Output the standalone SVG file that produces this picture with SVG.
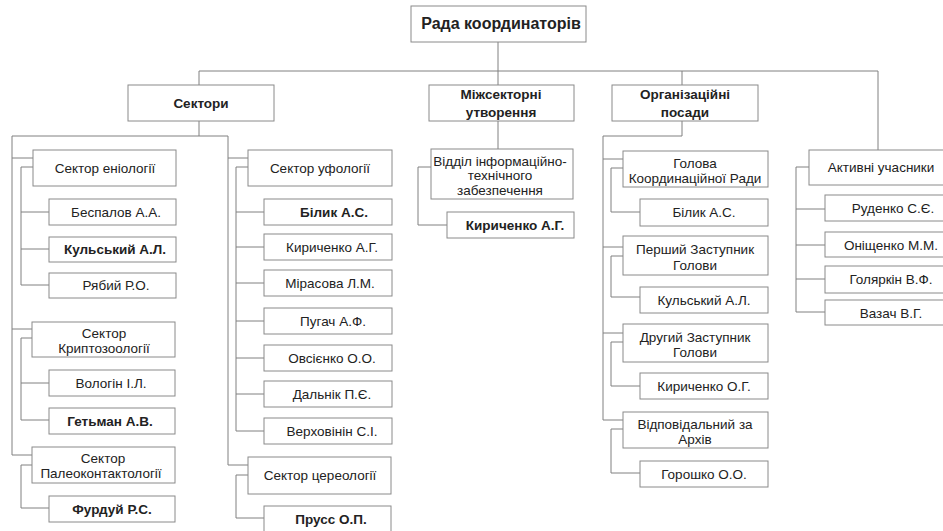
<svg xmlns="http://www.w3.org/2000/svg" width="943" height="531" viewBox="0 0 943 531">
<style>
rect{fill:#fff;stroke:#8a8a8a;stroke-width:1}
text{font-family:"Liberation Sans",Arial,sans-serif;font-size:13.5px;fill:#222;text-anchor:middle}
.b{font-weight:bold}
.t{font-size:16px;font-weight:bold}
#connectors path{fill:none;stroke:#808080;stroke-width:1}
</style>
<rect x="0" y="0" width="943" height="531" style="fill:#fff;stroke:none"/>
<g id="connectors">
<path d="M498 42V71M199 71H878M199 71V85M498 71V85M682 71V85M878 71V150"/>
<path d="M199 121V136M12 136H228M12 136V455H32M228 136V465H248M12 158H33M12 329H32"/>
<path d="M33 167H21V285H49M21 212H49M21 249H49"/>
<path d="M32 338H21V420H49M21 383H49"/>
<path d="M32 465H21V508H49"/>
<path d="M228 158H248"/>
<path d="M248 167H236V431H264M236 212H264M236 247H264M236 283H264M236 321H264M236 358H264M236 394H264"/>
<path d="M248 475H236V518H264"/>
<path d="M498 121V149M431 167H418V225H447"/>
<path d="M682 121V136H603V420H623M603 159H623M603 247H623M603 333H623"/>
<path d="M623 168H611V212H640M623 256H611V297H640M623 342H611V386H640M623 429H611V473H640"/>
<path d="M809 167H796V312H825M796 209H825M796 245H825M796 279H825"/>
</g>
<g id="rada"><rect x="411" y="6" width="175" height="36"/><text class="t" x="501" y="29">Рада координаторів</text></g>
<g id="sektory"><rect x="128" y="85" width="146" height="36"/><text class="b" x="201" y="108">Сектори</text></g>
<g id="mizhsektorni"><rect x="429" y="85" width="145" height="36"/><text class="b" x="501" y="99">Міжсекторні</text><text class="b" x="501" y="117">утворення</text></g>
<g id="orhposady"><rect x="612" y="85" width="146" height="36"/><text class="b" x="685" y="99">Організаційні</text><text class="b" x="685" y="117">посади</text></g>
<g id="aktyvni"><rect x="809" y="150" width="142" height="35"/><text x="881" y="172">Активні учасники</text></g>

<g id="eniolohiia"><rect x="33" y="150" width="143" height="36"/><text x="105" y="173">Сектор еніології</text></g>
<g id="bespalov"><rect x="49" y="199" width="127" height="26"/><text x="116" y="217">Беспалов А.А.</text></g>
<g id="kulskyi1"><rect x="49" y="237" width="127" height="25"/><text class="b" x="115" y="254">Кульський А.Л.</text></g>
<g id="riabyi"><rect x="49" y="273" width="127" height="25"/><text x="116" y="290">Рябий Р.О.</text></g>
<g id="kryptozoolohiia"><rect x="32" y="322" width="143" height="35"/><text x="104" y="338">Сектор</text><text x="104" y="353">Криптозоології</text></g>
<g id="volohin"><rect x="49" y="370" width="126" height="26"/><text x="111" y="388">Вологін І.Л.</text></g>
<g id="hetman"><rect x="49" y="408" width="126" height="26"/><text class="b" x="110" y="426">Гетьман А.В.</text></g>
<g id="paleokontakt"><rect x="32" y="447" width="143" height="36"/><text x="103" y="463">Сектор</text><text x="101" y="478">Палеоконтактології</text></g>
<g id="furdui"><rect x="49" y="496" width="126" height="26"/><text class="b" x="112" y="514">Фурдуй Р.С.</text></g>

<g id="ufolohiia"><rect x="248" y="150" width="144" height="36"/><text x="320" y="173">Сектор уфології</text></g>
<g id="bilyk1"><rect x="264" y="199" width="128" height="26"/><text class="b" x="334" y="217">Білик А.С.</text></g>
<g id="kyrychenko1"><rect x="264" y="234" width="128" height="26"/><text x="332" y="252">Кириченко А.Г.</text></g>
<g id="mirasova"><rect x="264" y="270" width="128" height="26"/><text x="330" y="288">Мірасова Л.М.</text></g>
<g id="puhach"><rect x="264" y="308" width="128" height="26"/><text x="333" y="326">Пугач А.Ф.</text></g>
<g id="ovsiienko"><rect x="264" y="345" width="128" height="26"/><text x="332" y="363">Овсієнко О.О.</text></g>
<g id="dalnik"><rect x="264" y="381" width="128" height="26"/><text x="332" y="399">Дальнік П.Є.</text></g>
<g id="verkhovinin"><rect x="264" y="418" width="128" height="26"/><text x="332" y="436">Верховінін С.І.</text></g>
<g id="tsereolohiia"><rect x="248" y="457" width="143" height="37"/><text x="320" y="480">Сектор цереології</text></g>
<g id="pruss"><rect x="264" y="506" width="127" height="30"/><text class="b" x="331" y="524">Прусс О.П.</text></g>

<g id="viddil"><rect x="431" y="149" width="142" height="50"/><text x="500" y="166">Відділ інформаційно-</text><text x="500" y="180">технічного</text><text x="500" y="195">забезпечення</text></g>
<g id="kyrychenko2"><rect x="447" y="212" width="127" height="26"/><text class="b" x="515" y="230">Кириченко А.Г.</text></g>

<g id="holova"><rect x="623" y="151" width="145" height="36"/><text x="695" y="168">Голова</text><text x="695" y="183">Координаційної Ради</text></g>
<g id="bilyk2"><rect x="640" y="199" width="128" height="27"/><text x="704" y="217">Білик А.С.</text></g>
<g id="pershyi"><rect x="623" y="236" width="145" height="39"/><text x="695" y="254">Перший Заступник</text><text x="695" y="270">Голови</text></g>
<g id="kulskyi2"><rect x="640" y="287" width="128" height="26"/><text x="704" y="305">Кульський А.Л.</text></g>
<g id="druhyi"><rect x="623" y="324" width="145" height="38"/><text x="695" y="342">Другий Заступник</text><text x="695" y="357">Голови</text></g>
<g id="kyrychenko3"><rect x="640" y="373" width="128" height="26"/><text x="704" y="391">Кириченко О.Г.</text></g>
<g id="vidpovidalnyi"><rect x="623" y="412" width="145" height="36"/><text x="695" y="429">Відповідальний за</text><text x="695" y="444">Архів</text></g>
<g id="horoshko"><rect x="640" y="461" width="128" height="26"/><text x="704" y="479">Горошко О.О.</text></g>

<g id="rudenko"><rect x="825" y="195" width="130" height="26"/><text x="893" y="213">Руденко С.Є.</text></g>
<g id="onishchenko"><rect x="825" y="232" width="130" height="25"/><text x="891" y="250">Оніщенко М.М.</text></g>
<g id="holiarkin"><rect x="825" y="266" width="130" height="27"/><text x="891" y="284">Голяркін В.Ф.</text></g>
<g id="vazach"><rect x="825" y="300" width="130" height="25"/><text x="891" y="318">Вазач В.Г.</text></g>
</svg>
